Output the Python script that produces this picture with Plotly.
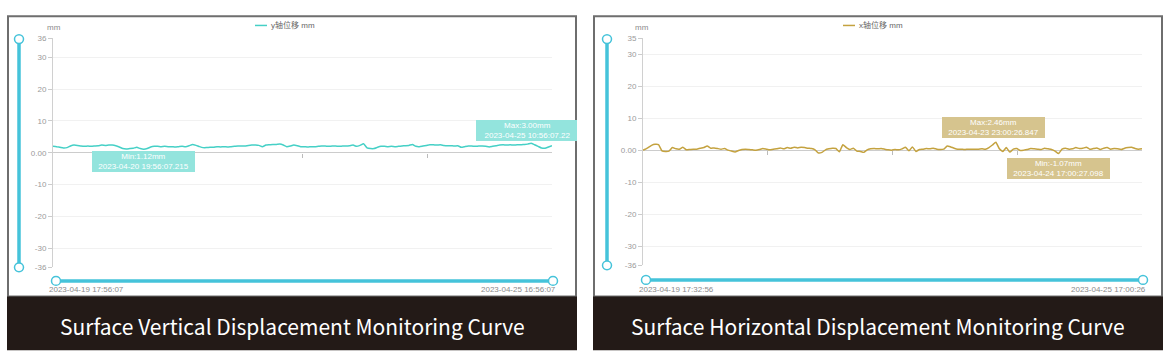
import plotly.graph_objects as go
import pandas as pd

W, H = 1171, 362

# ---------------- data ----------------
v_start, v_end = "2023-04-19 17:56:07", "2023-04-25 16:56:07"
v_times = list(pd.date_range(v_start, periods=144, freq="h"))
v_vals = [2.0, 1.9, 1.7, 1.5, 1.6, 2.1, 2.4, 2.3, 2.1, 2.0,
          2.1, 2.0, 2.1, 2.2, 2.4, 2.3, 2.4, 2.4, 2.2, 1.8,
          1.3, 1.2, 1.3, 1.4, 1.7, 1.3, 1.12, 1.3, 1.8, 2.0,
          2.0, 1.9, 2.0, 1.9, 1.9, 1.8, 1.9, 2.0, 1.9, 2.2,
          2.6, 2.3, 1.9, 1.6, 1.6, 1.7, 1.7, 1.9, 1.8, 1.9,
          1.8, 1.9, 2.0, 2.1, 2.1, 2.1, 2.3, 2.4, 2.4, 2.3,
          1.9, 2.4, 2.5, 2.6, 2.6, 2.7, 2.4, 1.9, 2.1, 2.4,
          2.2, 1.9, 1.9, 1.8, 1.9, 1.9, 2.0, 2.1, 2.1, 2.0,
          2.1, 2.1, 2.0, 2.1, 2.1, 2.2, 2.4, 2.0, 2.3, 2.8,
          1.5, 1.3, 1.3, 1.7, 2.0, 2.0, 1.9, 2.0, 1.9, 2.0,
          2.1, 2.2, 2.3, 2.6, 2.0, 1.9, 2.1, 2.3, 2.5, 2.5,
          2.4, 2.5, 2.3, 2.2, 2.2, 2.1, 2.2, 1.7, 1.9, 2.1,
          2.1, 2.0, 2.1, 2.1, 2.0, 1.8, 2.0, 2.2, 2.4, 2.5,
          2.4, 2.5, 2.4, 2.5, 2.5, 2.6, 2.7, 3.00, 2.5, 2.0,
          1.5, 1.4, 1.8, 2.2]

h_start, h_end = "2023-04-19 17:32:56", "2023-04-25 17:00:26"
h_times = [pd.Timestamp(h_start)] + list(pd.date_range("2023-04-19 18:00:26", periods=144, freq="h"))
h_vals = [0.0, 0.2, 0.8, 1.5, 1.8, 1.7, -0.2, -0.4, -0.3, 0.8,
          0.4, 0.3, 0.9, 0.1, 0.2, 0.3, 0.3, 0.6, 0.8, 1.3,
          0.6, 0.7, 0.5, 0.3, 0.5, 0.0, -0.3, -0.6, -0.1, 0.2,
          0.3, 0.2, 0.1, 0.0, 0.2, 0.5, 0.3, 0.1, 0.3, 0.4,
          0.7, 0.4, 0.8, 0.6, 0.9, 0.7, 0.9, 0.8, 0.6, 0.5,
          0.1, -0.9, -0.7, 0.1, 0.4, 0.6, 0.5, -0.5, 1.7, 0.8,
          0.2, 0.6, -0.3, -0.4, -0.7, 0.1, 0.4, 0.5, 0.4, 0.5,
          0.3, 0.1, 0.0, 0.2, 0.1, 0.4, 0.9, -0.2, 1.0, -0.4,
          0.2, 0.3, 0.5, 0.4, 0.6, 0.3, 0.2, 0.3, 1.3, 1.0,
          0.6, 0.3, 0.3, 0.2, 0.3, 0.3, 0.3, 0.3, 0.4, 0.3,
          0.8, 1.6, 2.46, 0.4, -0.4, 0.8, -0.6, 0.3, 0.5, -0.1,
          0.0, 0.2, 0.5, 0.4, 0.3, 0.2, 0.6, 0.4, 0.2, -0.3,
          -1.07, 0.3, 0.6, 0.3, 0.4, 0.8, 0.5, 0.6, 0.9, 0.3,
          0.5, 0.7, 0.2, 0.6, 0.8, 0.3, 0.5, 0.4, 0.2, 0.6,
          0.8, 0.9, 0.5, 0.3, 0.4]

v_ticks = [36, 30, 20, 10, 0, -10, -20, -30, -36]
v_ticktext = ["36", "30", "20", "10", "0.00", "-10", "-20", "-30", "-36"]
h_ticks = [35, 30, 20, 10, 0, -10, -20, -30, -36]
h_ticktext = ["35", "30", "20", "10", "0.00", "-10", "-20", "-30", "-36"]

v_name = "y轴位移 mm"
h_name = "x轴位移 mm"
v_title = "Surface Vertical Displacement Monitoring Curve"
h_title = "Surface Horizontal Displacement Monitoring Curve"

# ---------------- style ----------------
V_COLOR = "#45d0c6"
H_COLOR = "#c4a23f"
V_BOX = "#93e4dd"
H_BOX = "#d6c48e"
SLIDER = "#45c3da"
FOOT = "#231a17"
BORDER = "#6e6e6e"
FONT = "Liberation Sans, Noto Sans CJK SC, sans-serif"


def px(x):
    return x / W


def py(y):
    return 1 - y / H


panels = [
    dict(times=v_times, vals=v_vals, name=v_name, title=v_title, color=V_COLOR, box=V_BOX,
         ticks=v_ticks, ticktext=v_ticktext, yr=[-36, 36], xr=[v_start, v_end],
         plot=(53, 552, 35, 270), frame=(8, 576), slider_v=19, slider_y=284,
         legend_x=255, mm_x=54,
         ann=[("max", 2.5, -4), ("min", -2.3, 0)]),
    dict(times=h_times, vals=h_vals, name=h_name, title=h_title, color=H_COLOR, box=H_BOX,
         ticks=h_ticks, ticktext=h_ticktext, yr=[-36, 35], xr=[h_start, h_end],
         plot=(643, 1142, 35, 268), frame=(594, 1162), slider_v=607, slider_y=283,
         legend_x=843, mm_x=642,
         ann=[("max", 4, -2), ("min", -4.5, 0)]),
]

fig = go.Figure()
shapes = []
annotations = []

for k, p in enumerate(panels):
    sfx = "" if k == 0 else str(k + 1)
    xa, ya = "x" + sfx, "y" + sfx
    x0, x1, y0, y1 = p["plot"]
    xdom = [px(x0), px(x1)]
    ydom = [py(y1), py(y0)]
    yr = p["yr"]
    zero_pos = ydom[0] + (0 - yr[0]) / (yr[1] - yr[0]) * (ydom[1] - ydom[0])

    fig.add_trace(go.Scatter(x=p["times"], y=p["vals"], mode="lines", name=p["name"],
                             line=dict(color=p["color"], width=1.5, shape="spline", smoothing=0.4),
                             xaxis=xa, yaxis=ya, showlegend=False, hoverinfo="x+y"))

    t0 = pd.Timestamp(p["xr"][0])
    t1 = pd.Timestamp(p["xr"][1])
    xt = [t0 + (t1 - t0) * f / 4 for f in (1, 2, 3)]

    fig.update_layout(**{
        "xaxis" + sfx: dict(domain=xdom, range=[t0, t1], anchor="free", position=zero_pos,
                            showgrid=False, zeroline=False, showline=False,
                            tickvals=xt, ticks="outside", ticklen=4, tickcolor="#bbbbbb",
                            showticklabels=False, fixedrange=True),
        "yaxis" + sfx: dict(domain=ydom, range=yr, anchor=xa, tickvals=p["ticks"],
                            ticktext=p["ticktext"], showgrid=True, gridcolor="#f1f1f1",
                            gridwidth=1, zeroline=True, zerolinecolor="#cccccc", zerolinewidth=1,
                            showline=True, linecolor="#d0d0d0", linewidth=1,
                            ticks="outside", ticklen=4, tickcolor="#cccccc",
                            tickfont=dict(size=8, color="#9a9a9a", family=FONT), fixedrange=True),
    })

    # frame border
    fx0, fx1 = p["frame"]
    shapes.append(dict(type="rect", xref="paper", yref="paper", x0=px(fx0), x1=px(fx1),
                       y0=py(300), y1=py(12.5), line=dict(color=BORDER, width=2),
                       fillcolor="rgba(0,0,0,0)", layer="above"))
    # footer
    shapes.append(dict(type="rect", xref="paper", yref="paper", x0=px(fx0 - 1), x1=px(fx1 + 1),
                       y0=py(355), y1=py(300), line=dict(width=0), fillcolor=FOOT, layer="above"))
    annotations.append(dict(xref="paper", yref="paper", x=px((fx0 + fx1) / 2), y=py(330),
                            text=p["title"], showarrow=False, xanchor="center", yanchor="middle",
                            font=dict(size=21, color="white", family="Noto Sans CJK SC, Noto Sans")))

    # vertical slider (dataZoom)
    sv = p["slider_v"]
    shapes.append(dict(type="line", xref="paper", yref="paper", x0=px(sv), x1=px(sv),
                       y0=py(y1), y1=py(y0), line=dict(color=SLIDER, width=3.5), layer="above"))
    for yy in (y0 + 1, y1):
        shapes.append(dict(type="circle", xref="paper", yref="paper", x0=px(sv - 4.5), x1=px(sv + 4.5),
                           y0=py(yy + 4.5), y1=py(yy - 4.5), line=dict(color=SLIDER, width=1.5),
                           fillcolor="white", layer="above"))
    # horizontal slider
    sy = p["slider_y"]
    shapes.append(dict(type="line", xref="paper", yref="paper", x0=px(x0 + 3), x1=px(x1 + 1),
                       y0=py(sy), y1=py(sy), line=dict(color=SLIDER, width=3.5), layer="above"))
    for xx in (x0 + 3, x1 + 1):
        shapes.append(dict(type="circle", xref="paper", yref="paper", x0=px(xx - 4.5), x1=px(xx + 4.5),
                           y0=py(sy + 4.5), y1=py(sy - 4.5), line=dict(color=SLIDER, width=1.5),
                           fillcolor="white", layer="above"))
    annotations.append(dict(xref="paper", yref="paper", x=px(x0 - 6), y=py(293), text=str(t0),
                            showarrow=False, xanchor="left", yanchor="middle",
                            font=dict(size=8, color="#8a8a8a", family=FONT)))
    annotations.append(dict(xref="paper", yref="paper", x=px(x1 + 6), y=py(293), text=str(t1),
                            showarrow=False, xanchor="right", yanchor="middle",
                            font=dict(size=8, color="#8a8a8a", family=FONT)))

    # legend-like header
    lx = p["legend_x"]
    shapes.append(dict(type="line", xref="paper", yref="paper", x0=px(lx), x1=px(lx + 12),
                       y0=py(22), y1=py(22), line=dict(color=p["color"], width=1.5)))
    annotations.append(dict(xref="paper", yref="paper", x=px(lx + 14), y=py(22), text=p["name"],
                            showarrow=False, xanchor="left", yanchor="middle",
                            font=dict(size=8, color="#666666", family=FONT)))
    # unit label
    annotations.append(dict(xref="paper", yref="paper", x=px(p["mm_x"]), y=py(24), text="mm",
                            showarrow=False, xanchor="center", yanchor="middle",
                            font=dict(size=8, color="#8a8a8a", family=FONT)))

    # min / max markers
    vals = p["vals"]
    imax = max(range(len(vals)), key=lambda i: vals[i])
    imin = min(range(len(vals)), key=lambda i: vals[i])
    for kind, ysh, xsh in p["ann"]:
        i = imax if kind == "max" else imin
        label = ("Max:" if kind == "max" else "Min:") + f"{vals[i]:.2f}mm"
        ts = p["times"][i]
        ms = {0: {"max": ".22", "min": ".215"}, 1: {"max": ".847", "min": ".098"}}[k][kind]
        tstr = ts.strftime("%Y-%m-%d %H:%M:%S") + ms
        if k == 1 and kind == "min":
            tstr = (ts + pd.Timedelta(seconds=1)).strftime("%Y-%m-%d %H:%M:%S") + ms
        annotations.append(dict(xref=xa, yref=ya, x=ts, y=vals[i],
                                text=label + "<br>" + tstr, showarrow=False,
                                xanchor="center", yanchor="bottom" if kind == "max" else "top",
                                yshift=ysh, xshift=xsh, bgcolor=p["box"], borderpad=2, borderwidth=0,
                                width=99, height=17, align="center",
                                font=dict(size=8, color="white", family=FONT)))

# white cover so the left Max label looks clipped by the panel frame
annotations.append(dict(xref="paper", yref="paper", x=px(577), y=py(129), text=" ",
                        showarrow=False, xanchor="left", yanchor="middle", bgcolor="white",
                        width=14, height=26, borderpad=0, borderwidth=0))

fig.update_layout(width=W, height=H, margin=dict(l=0, r=0, t=0, b=0),
                  paper_bgcolor="white", plot_bgcolor="white",
                  shapes=shapes, annotations=annotations, showlegend=False,
                  font=dict(family=FONT))

fig.write_html("out.html", config={"displayModeBar": False},
               post_script="document.body.style.margin='0';document.body.style.overflow='hidden';")
